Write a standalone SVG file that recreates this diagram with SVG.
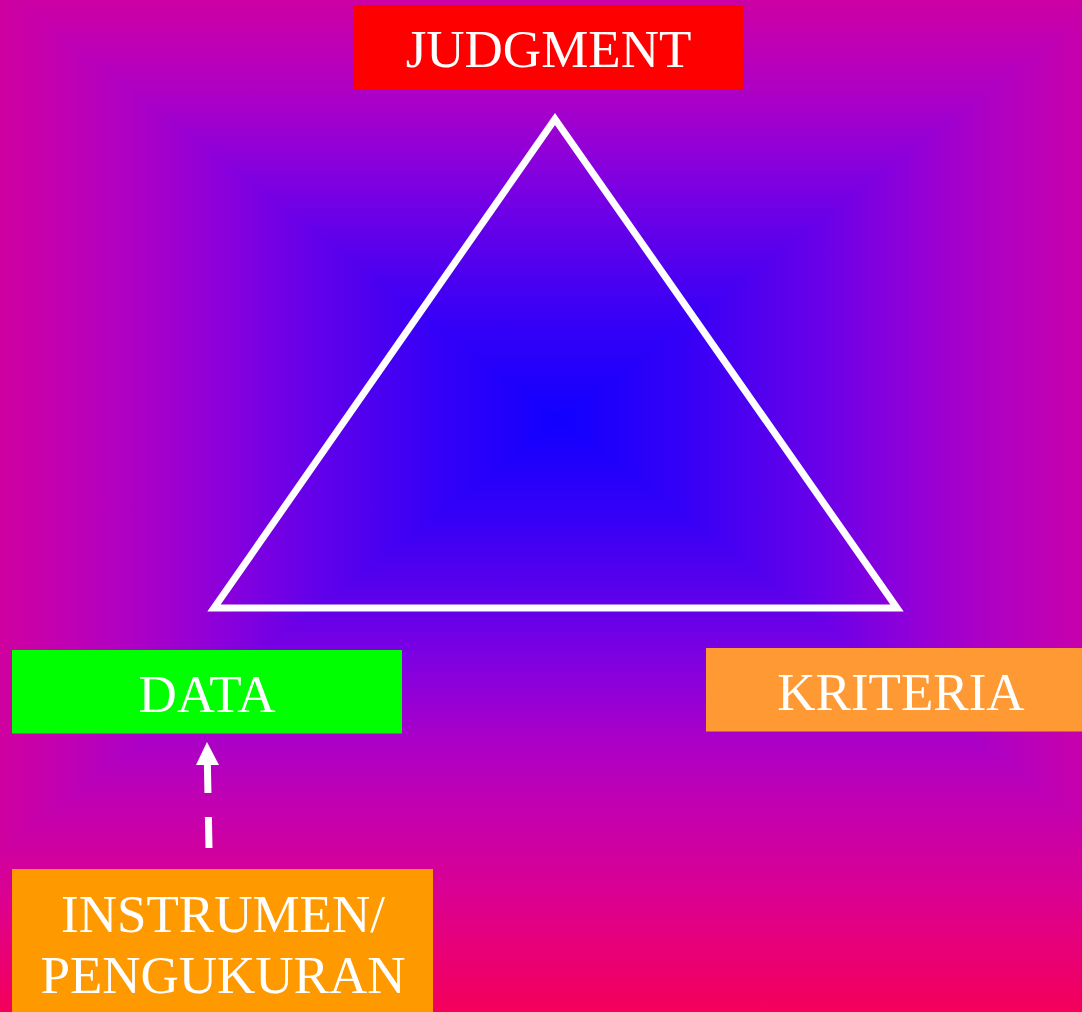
<svg xmlns="http://www.w3.org/2000/svg" width="1082" height="1012" viewBox="0 0 1082 1012">
  <defs>
    <linearGradient id="gUp" gradientUnits="userSpaceOnUse" x1="0" y1="420" x2="0" y2="-180">
      <stop offset="0" stop-color="#1000ff"/>
      <stop offset="0.17" stop-color="#3800f6"/>
      <stop offset="0.33" stop-color="#6800e8"/>
      <stop offset="0.43" stop-color="#8a00dc"/>
      <stop offset="0.53" stop-color="#aa00c8"/>
      <stop offset="0.63" stop-color="#c000b4"/>
      <stop offset="0.72" stop-color="#d0009f"/>
      <stop offset="0.8" stop-color="#dc0090"/>
      <stop offset="0.88" stop-color="#e80078"/>
      <stop offset="0.99" stop-color="#f5005a"/>
      <stop offset="1" stop-color="#f60058"/>
    </linearGradient>
    <linearGradient id="gDown" gradientUnits="userSpaceOnUse" x1="0" y1="420" x2="0" y2="1020" href="#gUp"/>
    <linearGradient id="gLeft" gradientUnits="userSpaceOnUse" x1="560" y1="0" x2="-220" y2="0" href="#gUp"/>
    <linearGradient id="gRight" gradientUnits="userSpaceOnUse" x1="560" y1="0" x2="1340" y2="0" href="#gUp"/>
  </defs>
  <style>
    .lbl { font-family: "Liberation Serif", "Times New Roman", serif; font-size: 53px; fill: #ffffff; text-anchor: middle; }
    .tri { fill: none; stroke: #ffffff; stroke-width: 7; stroke-linejoin: miter; }
    .conn { fill: none; stroke: #ffffff; stroke-width: 7; stroke-dasharray: 31 24; }
    .bgp { stroke-width: 1.2; }
  </style>
  <g id="background">
    <rect x="0" y="0" width="1082" height="1012" fill="#b000c0"/>
    <polygon class="bgp" points="560,420 14,0 1082,0 1082,18" fill="url(#gUp)" stroke="url(#gUp)"/>
    <polygon class="bgp" points="560,420 0,851 0,1012 1082,1012 1082,822" fill="url(#gDown)" stroke="url(#gDown)"/>
    <polygon class="bgp" points="560,420 14,0 0,0 0,851" fill="url(#gLeft)" stroke="url(#gLeft)"/>
    <polygon class="bgp" points="560,420 1082,18 1082,822" fill="url(#gRight)" stroke="url(#gRight)"/>
  </g>

  <g id="triangle">
    <polygon class="tri" points="555,119 214,608 897,608"/>
  </g>

  <g id="node-judgment">
    <rect x="354" y="5" width="389" height="84" fill="#ff0000"/>
    <text class="lbl" x="548.5" y="67">JUDGMENT</text>
  </g>

  <g id="node-data">
    <rect x="12" y="650" width="390" height="83.5" fill="#00ff00"/>
    <text class="lbl" x="207" y="712">DATA</text>
  </g>

  <g id="node-kriteria">
    <rect x="706" y="648" width="376" height="83.5" fill="#ff9933"/>
    <text class="lbl" x="901" y="710">KRITERIA</text>
  </g>

  <g id="node-instrumen">
    <rect x="12" y="869" width="421" height="143" fill="#ff9900"/>
    <text class="lbl" x="223" y="932">INSTRUMEN/</text>
    <text class="lbl" x="223" y="993">PENGUKURAN</text>
  </g>

  <g id="connectors">
    <path class="conn" d="M209,848 L207.4,765"/>
    <polygon points="207,742 196,765 219,765" fill="#ffffff"/>
  </g>
</svg>
